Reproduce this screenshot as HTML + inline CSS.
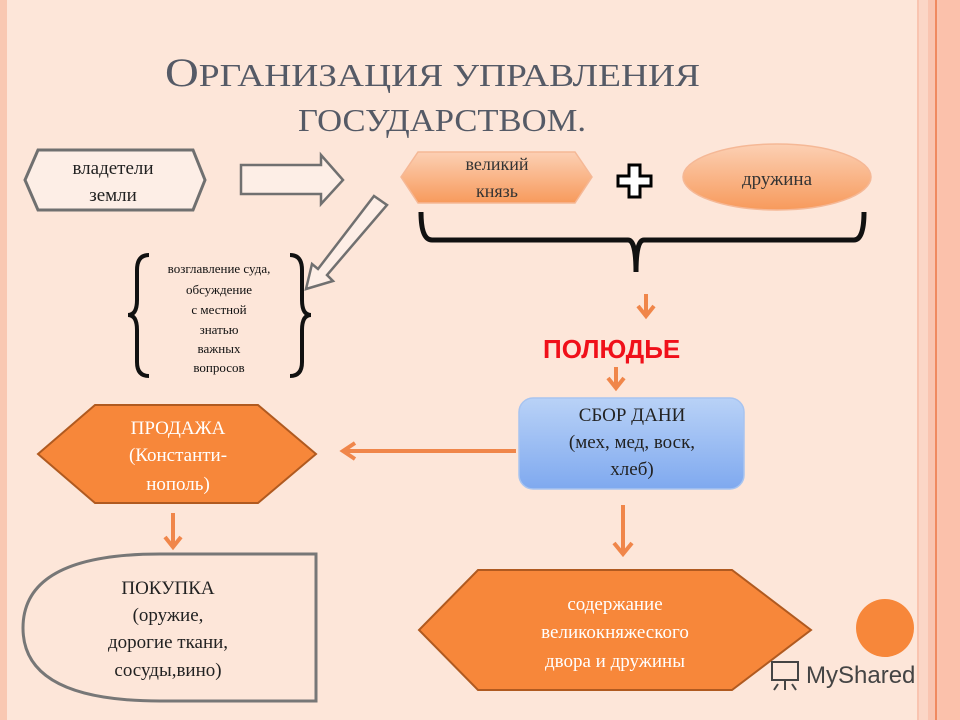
<!DOCTYPE html>
<html><head><meta charset="utf-8"><style>
html,body{margin:0;padding:0;background:#fde6d9;}
svg{display:block;font-family:"Liberation Serif","DejaVu Serif",serif;}
</style></head><body>
<svg width="960" height="720" viewBox="0 0 960 720" xmlns="http://www.w3.org/2000/svg">
<defs>
<linearGradient id="og" x1="0" y1="0" x2="0" y2="1"><stop offset="0" stop-color="#fcd0b4"/><stop offset="1" stop-color="#f79a5c"/></linearGradient>
<linearGradient id="bg" x1="0" y1="0" x2="0" y2="1"><stop offset="0" stop-color="#b9d2f7"/><stop offset="1" stop-color="#7fa9ef"/></linearGradient>
</defs>
<rect width="960" height="720" fill="#fde6d9"/>
<rect x="0" y="0" width="7" height="720" fill="#f9c8b2"/>
<rect x="917" y="0" width="43" height="720" fill="#f9c4b0"/>
<rect x="919" y="0" width="9" height="720" fill="#fbd6c6"/>
<rect x="935" y="0" width="2" height="720" fill="#f08a60"/>
<rect x="939" y="0" width="21" height="720" fill="#fbc1ab"/>
<!-- title -->
<text x="165" y="86" font-size="40" fill="#555a66" textLength="535" lengthAdjust="spacingAndGlyphs">О<tspan font-size="32">РГАНИЗАЦИЯ УПРАВЛЕНИЯ</tspan></text>
<text x="298" y="131" font-size="32" fill="#555a66" textLength="288" lengthAdjust="spacingAndGlyphs">ГОСУДАРСТВОМ.</text>
<!-- владетели -->
<polygon points="38,150 193,150 205,180 193,210 38,210 25,180" fill="#fdeee6" stroke="#707070" stroke-width="3"/>
<text x="113" y="174" font-size="19" text-anchor="middle" fill="#222">владетели</text>
<text x="113" y="201" font-size="19" text-anchor="middle" fill="#222">земли</text>
<!-- right block arrow -->
<polygon points="241,165 321,165 321,155 343,180 321,204 321,194 241,194" fill="#fdeee6" stroke="#707070" stroke-width="2.5"/>
<!-- diagonal arrow -->
<polygon points="374,196 387,205 327,275 333,281 306,289 312,264 318,269" fill="#fdeee6" stroke="#707070" stroke-width="2.5"/>
<!-- великий князь -->
<polygon points="418,152 575,152 592,177 575,203 418,203 401,177" fill="url(#og)" stroke="#f5b896" stroke-width="1.5"/>
<text x="497" y="170" font-size="18" text-anchor="middle" fill="#333">великий</text>
<text x="497" y="197" font-size="18" text-anchor="middle" fill="#333">князь</text>
<!-- plus -->
<polygon points="629,165 640,165 640,176 651,176 651,186 640,186 640,197 629,197 629,186 618,186 618,176 629,176" fill="#fff" stroke="#000" stroke-width="3"/>
<!-- дружина -->
<ellipse cx="777" cy="177" rx="94" ry="33" fill="url(#og)" stroke="#f5b896" stroke-width="1.5"/>
<text x="777" y="185" font-size="19" text-anchor="middle" fill="#333">дружина</text>
<!-- big brace -->
<path d="M421,212 Q421,240 432,240 L628,240 Q636,240 636,272 Q636,240 644,240 L854,240 Q864,240 864,212" fill="none" stroke="#111" stroke-width="5"/>
<!-- small braces -->
<path d="M149,255 Q137,255 137,270 L137,300 Q137,315 128,315 Q137,315 137,330 L137,362 Q137,376 149,376" fill="none" stroke="#111" stroke-width="4"/>
<path d="M290,255 Q302,255 302,270 L302,300 Q302,315 311,315 Q302,315 302,330 L302,362 Q302,376 290,376" fill="none" stroke="#111" stroke-width="4"/>
<g font-size="13" text-anchor="middle" fill="#111">
<text x="219" y="273">возглавление суда,</text>
<text x="219" y="294">обсуждение</text>
<text x="219" y="314">с местной</text>
<text x="219" y="334">знатью</text>
<text x="219" y="353">важных</text>
<text x="219" y="372">вопросов</text>
</g>
<!-- orange arrows -->
<g stroke="#f0864a" stroke-width="4" fill="none">
<path d="M646,294 V314 M638,306 L646,316 L654,306"/>
<path d="M616,367 V386 M608,378 L616,388 L624,378"/>
<path d="M516,451 H345 M355,443 L343,451 L355,459"/>
<path d="M173,513 V545 M165,537 L173,547 L181,537"/>
<path d="M623,505 V552 M614,543 L623,554 L632,543"/>
</g>
<text x="543" y="358" font-family="Liberation Sans,sans-serif" font-weight="bold" font-size="26" fill="#f0101a">ПОЛЮДЬЕ</text>
<!-- СБОР ДАНИ -->
<rect x="519" y="398" width="225" height="91" rx="14" fill="url(#bg)" stroke="#a8c4f0" stroke-width="1.5"/>
<g font-size="19" text-anchor="middle" fill="#222">
<text x="632" y="421">СБОР ДАНИ</text>
<text x="632" y="448">(мех, мед, воск,</text>
<text x="632" y="475">хлеб)</text>
</g>
<!-- ПРОДАЖА -->
<polygon points="95,405 258,405 316,454 258,503 95,503 38,454" fill="#f7873a" stroke="#b05a20" stroke-width="2"/>
<g font-size="19" text-anchor="middle" fill="#fff">
<text x="178" y="434">ПРОДАЖА</text>
<text x="178" y="461">(Константи-</text>
<text x="178" y="490">нополь)</text>
</g>
<!-- ПОКУПКА -->
<path d="M316,554 L316,701 L160,701 Q23,701 23,628 Q23,554 160,554 Z" fill="#fde6d9" stroke="#777" stroke-width="3"/>
<g font-size="19" text-anchor="middle" fill="#222">
<text x="168" y="594">ПОКУПКА</text>
<text x="168" y="621">(оружие,</text>
<text x="168" y="648">дорогие ткани,</text>
<text x="168" y="676">сосуды,вино)</text>
</g>
<!-- содержание -->
<polygon points="478,570 732,570 811,630 732,690 478,690 419,630" fill="#f7873a" stroke="#b05a20" stroke-width="2"/>
<g font-size="19" text-anchor="middle" fill="#fff">
<text x="615" y="610">содержание</text>
<text x="615" y="638">великокняжеского</text>
<text x="615" y="667">двора и дружины</text>
</g>
<circle cx="885" cy="628" r="29" fill="#f7873a"/>
<!-- watermark -->
<g stroke="#444" stroke-width="2" fill="none">
<rect x="772" y="662" width="26" height="18"/>
<path d="M778,684 L774,690 M792,684 L796,690 M785,680 V690"/>
</g>
<text x="806" y="683" font-family="Liberation Sans,sans-serif" font-size="24" fill="#444">MyShared</text>
</svg>
</body></html>
